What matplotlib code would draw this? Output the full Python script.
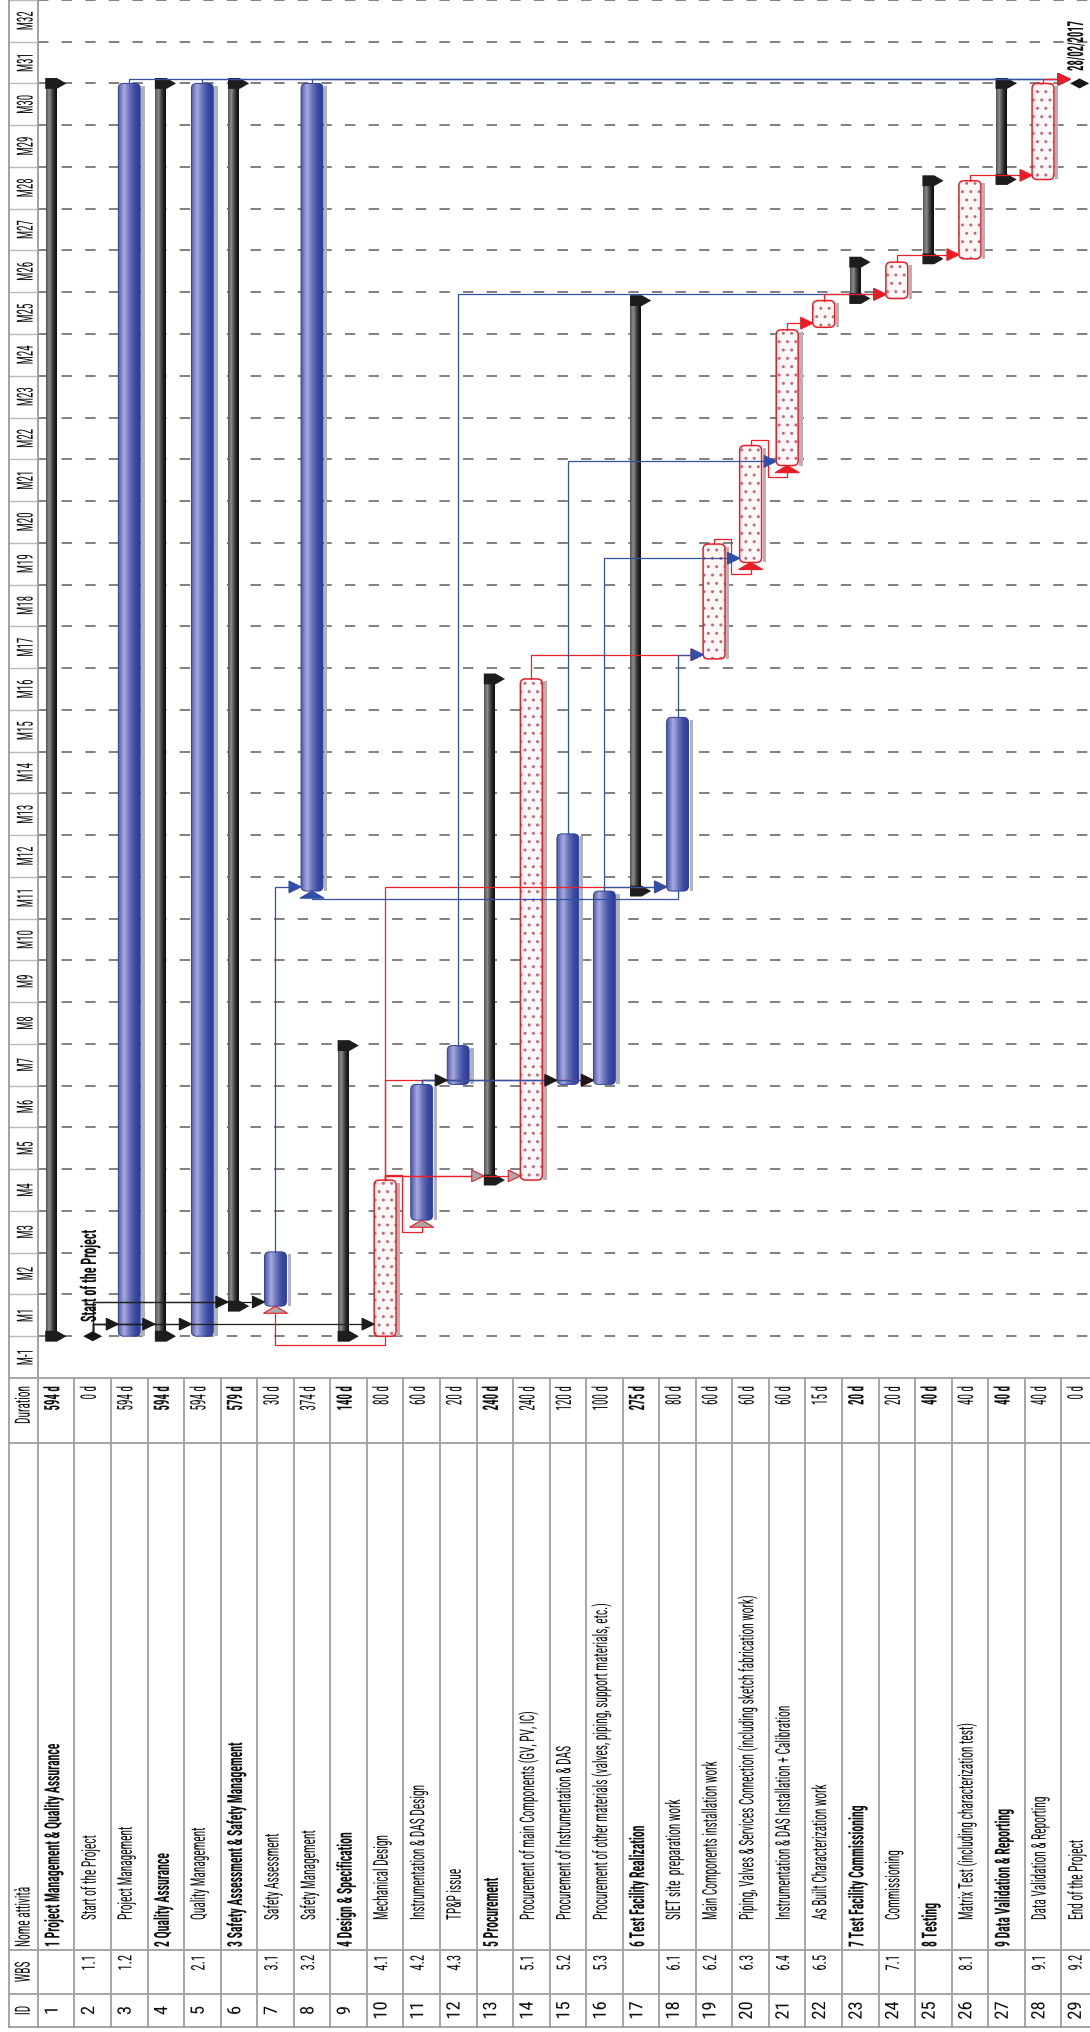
import numpy as np
import matplotlib
matplotlib.use("Agg")
import matplotlib.pyplot as plt
from matplotlib import font_manager as fm
from matplotlib.patches import FancyBboxPatch, Rectangle, Polygon
from matplotlib.colors import LinearSegmentedColormap
from matplotlib.patheffects import AbstractPathEffect
from matplotlib.transforms import Affine2D

# ---------------------------------------------------------------- data
task_ids = list(range(1, 30))
wbs_codes = ["", "1.1", "1.2", "", "2.1", "", "3.1", "3.2", "", "4.1", "4.2", "4.3", "",
             "5.1", "5.2", "5.3", "", "6.1", "6.2", "6.3", "6.4", "6.5", "", "7.1", "",
             "8.1", "", "9.1", "9.2"]
task_names = [
    "1 Project Management & Quality Assurance",
    "Start of the Project",
    "Project Management",
    "2 Quality Assurance",
    "Quality Management",
    "3 Safety Assessment & Safety Management",
    "Safety Assessment",
    "Safety Management",
    "4 Design & Specification",
    "Mechanical Design",
    "Instrumentation & DAS Design",
    "TP&P issue",
    "5 Procurement",
    "Procurement of main Components (GV, PV, IC)",
    "Procurement of Instrumentation & DAS",
    "Procurement of other materials (valves, piping, support materials, etc.)",
    "6 Test Facility Realization",
    "SIET site  preparation work",
    "Main Components installation work",
    "Piping, Valves & Services Connection (including sketch fabrication work)",
    "Instrumentation & DAS Installation + Calibration",
    "As Built Characterization work",
    "7 Test Facility Commissioning",
    "Commissioning",
    "8 Testing",
    "Matrix Test (including characterization test)",
    "9 Data Validation & Reporting",
    "Data Validation & Reporting",
    "End of the Project",
]
durations = ["594 d", "0 d", "594 d", "594 d", "594 d", "579 d", "30 d", "374 d", "140 d",
             "80 d", "60 d", "20 d", "240 d", "240 d", "120 d", "100 d", "275 d", "80 d",
             "60 d", "60 d", "60 d", "15 d", "20 d", "20 d", "40 d", "40 d", "40 d",
             "40 d", "0 d"]
task_types = ["summary", "milestone", "task", "summary", "task", "summary", "task", "task",
              "summary", "critical", "task", "task", "summary", "critical", "task", "task",
              "summary", "task", "critical", "critical", "critical", "critical", "summary",
              "critical", "summary", "critical", "summary", "critical", "milestone"]
# start / finish in months counted from the beginning of column "M-1"
start_month = [1.00, 1.00, 1.00, 1.00, 1.00, 1.72, 1.72, 11.66, 1.00, 1.00, 3.78, 7.03,
               4.74, 4.74, 7.03, 7.03, 11.66, 11.66, 17.22, 19.53, 21.85, 25.16, 25.85,
               25.85, 26.80, 26.80, 28.70, 28.70, 31.00]
finish_month = [31.00, 1.00, 31.00, 31.00, 31.00, 31.00, 3.02, 31.00, 7.96, 4.74, 7.03,
                7.96, 16.74, 16.74, 13.03, 11.66, 25.80, 15.82, 19.97, 22.33, 25.10, 25.80,
                26.72, 26.72, 28.67, 28.67, 31.00, 31.00, 31.00]
month_labels = ["M-1", "M1", "M2", "M3", "M4", "M5", "M6", "M7", "M8", "M9", "M10", "M11",
                "M12", "M13", "M14", "M15", "M16", "M17", "M18", "M19", "M20", "M21", "M22",
                "M23", "M24", "M25", "M26", "M27", "M28", "M29", "M30", "M31", "M32"]
# (predecessor, successor, link type, line colour, arrow colour)
dependencies = [
    (2, 3, "FS", "black", "black"), (2, 4, "FS", "black", "black"),
    (2, 5, "FS", "black", "black"), (2, 6, "FS", "black", "black"),
    (2, 7, "FS", "black", "black"), (2, 10, "FS", "black", "black"),
    (10, 7, "SS", "red", "redgray"), (10, 11, "FS", "red", "redgray"),
    (10, 13, "FS", "red", "redgray"), (10, 14, "FS", "red", "redgray"),
    (10, 16, "FS", "red", "redgray"), (10, 18, "FS", "red", "redgray"),
    (14, 19, "FS", "red", "red"),
    (7, 8, "FS", "blue", "blue"), (11, 12, "FS", "blue", "black"),
    (11, 15, "FS", "blue", "black"), (11, 16, "FS", "blue", "black"),
    (16, 18, "FS", "blue", "blue"), (18, 8, "SS", "blue", "blue"),
    (18, 19, "FS", "blue", "blue"), (16, 20, "FS", "blue", "blue"),
    (15, 21, "FS", "blue", "blue"), (12, 24, "FS", "blue", "blue"),
    (3, 29, "FS", "blue", "blue"), (5, 29, "FS", "blue", "blue"),
    (8, 29, "FS", "blue", "blue"),
    (19, 20, "FS", "red", "red"), (20, 21, "FS", "red", "red"),
    (21, 22, "FS", "red", "red"), (22, 24, "FS", "red", "red"),
    (24, 26, "FS", "red", "red"), (26, 28, "FS", "red", "red"),
    (28, 29, "FS", "red", "red"),
]
start_label = "Start of the Project"
end_label = "28/02/2017"
header_labels = ["Duration", "Nome attività", "WBS", "ID"]

# ---------------------------------------------------------------- layout
W, H = 1090, 2033
X_BORDER, X_ROWS, ROW_W = 8.5, 37.9, 36.55
Y_TABLE, MONTH_H = 1379.0, 41.76
TABLE_LINES = [1379, 1444, 1951, 1995, 2028]

avail = {f.name for f in fm.fontManager.ttflist}
FONT = next((n for n in ["Liberation Sans Narrow", "Arial Narrow", "Roboto Condensed",
                         "Liberation Sans", "Arial"] if n in avail), "DejaVu Sans")
plt.rcParams["font.family"] = [FONT, "DejaVu Sans"]
plt.rcParams["lines.scale_dashes"] = False
plt.rcParams["hatch.linewidth"] = 1.0

fig = plt.figure(figsize=(W / 100, H / 100), dpi=100)
fig.patch.set_facecolor("white")
renderer = fig.canvas.get_renderer()


class Stretch(AbstractPathEffect):
    """Stretch glyphs across the writing direction (condensed look)."""

    def __init__(self, k, centre=36.0):
        super().__init__()
        self._k = k
        self._c = centre

    def draw_path(self, renderer, gc, tpath, affine, rgbFace=None):
        pre = Affine2D().translate(0, -self._c).scale(1.0, self._k).translate(0, self._c)
        renderer.draw_path(gc, tpath, pre + affine, rgbFace)


STY = {}


def style(key, sample, length_px, cap_px, weight="normal"):
    fp = fm.FontProperties(family=[FONT, "DejaVu Sans"], weight=weight, size=10)
    w, _, _ = renderer.get_text_width_height_descent(sample, fp, ismath=False)
    size = 10.0 * length_px / w
    STY[key] = dict(size=size, weight=weight, k=max(1.0, cap_px / size))


style("name", task_names[19], 323, 14.5)
style("name_bold", task_names[0], 203, 15, "bold")
style("dur", "374 d", 24.5, 15.5)
style("dur_bold", "594 d", 24.5, 15.5, "bold")
style("wbs", "4.2", 15.6, 13.5)
style("id", "10", 18, 12.5)
style("month", "M30", 19, 16)
style("header", "Duration", 38, 15)
style("ms", start_label, 92, 15.5, "bold")
style("date", end_label, 50, 16, "bold")


def put(axis, x, y, s, key, **kw):
    st = STY[key]
    t = axis.text(x, y, s, rotation=90, fontsize=st["size"], fontweight=st["weight"],
                  color="#111111", **kw)
    t.set_path_effects([Stretch(st["k"])])
    return t


# ---------------------------------------------------------------- chart axes
ax = fig.add_axes([X_ROWS / W, 1 - Y_TABLE / H, (W - X_ROWS) / W, Y_TABLE / H])
T_MAX = Y_TABLE / MONTH_H
ax.set_xlim(0.5, 0.5 + (W - X_ROWS) / ROW_W)
ax.set_ylim(0, T_MAX)
ax.set_autoscale_on(False)
ax.set_axis_off()

for m in range(1, len(month_labels) + 1):
    ax.axhline(m, color="#808080", lw=1.4, linestyle=(0, (7.5, 9.5)), zorder=1)

GRAD = np.linspace(0, 1, 128).reshape(1, -1)
BLUE_CM = LinearSegmentedColormap.from_list(
    "bl", [(0, "#4d58ab"), (0.28, "#a9abdd"), (0.5, "#6d76be"), (0.75, "#3e4da4"), (1, "#2c3c94")])
GREY_CM = LinearSegmentedColormap.from_list(
    "gr", [(0, "#505050"), (0.3, "#8e8e8e"), (0.55, "#4c4c4c"), (0.8, "#1e1e1e"), (1, "#0e0e0e")])
HW = 0.30


def rounded(x0, y0, w, h, **kw):
    return FancyBboxPatch((x0, y0), w, h, boxstyle="round,pad=0,rounding_size=0.14",
                          mutation_aspect=0.85, **kw)


for r, typ, s, f in zip(task_ids, task_types, start_month, finish_month):
    if typ == "summary":
        ax.imshow(GRAD, extent=(r - 0.29, r, s, f), cmap=GREY_CM, aspect="auto",
                  interpolation="bilinear", origin="lower", zorder=3)
        for t in (s, f):
            ax.add_patch(Polygon([(r - 0.30, t - 0.13), (r + 0.02, t - 0.13), (r + 0.28, t),
                                  (r + 0.02, t + 0.13), (r - 0.30, t + 0.13)], closed=True,
                                 facecolor="#1d1d1d", edgecolor="none", zorder=4))
    elif typ == "milestone":
        ax.add_patch(Polygon([(r - 0.26, s), (r, s + 0.12), (r + 0.26, s), (r, s - 0.12)],
                             closed=True, facecolor="#161616", edgecolor="none", zorder=6))
    else:
        ax.add_patch(Rectangle((r + HW + 0.03, s), 0.09, max(f - s - 0.06, 0.05),
                               facecolor="#b3b3b3", edgecolor="none", zorder=2))
        if typ == "task":
            outline = rounded(r - HW, s, 2 * HW, f - s, facecolor="none",
                              edgecolor="#2f3f95", lw=0.7, zorder=3.5)
            ax.add_patch(outline)
            im = ax.imshow(GRAD, extent=(r - HW, r + HW, s, f), cmap=BLUE_CM, aspect="auto",
                           interpolation="bilinear", origin="lower", zorder=3)
            im.set_clip_path(outline)
        else:
            ax.add_patch(rounded(r - HW, s, 2 * HW, f - s, facecolor="#fbf7f6",
                                 edgecolor="#c46c7a", lw=0, hatch="..", zorder=3))
            ax.add_patch(rounded(r - HW, s, 2 * HW, f - s, facecolor="none",
                                 edgecolor="#e61e28", lw=1.1, zorder=3.5))

LINE_C = {"black": "#1f1f1f", "blue": "#3352a6", "red": "#ec2027"}
ARROW_F = {"black": "#1a1a1a", "blue": "#2f4fa8", "red": "#ed1c24", "redgray": "#a9a9a9"}
ARROW_E = {"black": "#1a1a1a", "blue": "#2f4fa8", "red": "#ed1c24", "redgray": "#ed1c24"}


def tip_x(r):
    return r - (0.26 if task_types[r - 1] == "milestone" else 0.30)


for p, q, typ, lc, ac in dependencies:
    sp, fp = start_month[p - 1], finish_month[p - 1]
    sq = start_month[q - 1]
    up = True
    if typ == "SS":
        yb = min(sp, sq) - 0.2
        xs, ys = [p, p, q, q], [sp, yb, yb, sq - 0.17]
    elif sq < fp - 0.05:
        y1, y2, xr = fp + 0.12, sq - 0.28, p + 0.47
        xs, ys = [p, p, xr, xr, q, q], [fp, y1, y1, y2, y2, sq - 0.17]
    else:
        up = False
        ya = sq + 0.1
        y0 = fp
        if task_types[p - 1] == "milestone":
            ya = max(ya, fp + 0.29)
            y0 = fp + 0.12
        xt = tip_x(q)
        xs, ys = [p, p, xt - 0.33], [y0, ya, ya]
    ax.plot(xs, ys, color=LINE_C[lc], lw=0.9, solid_joinstyle="miter", zorder=5)
    if up:
        tri = [(q, sq), (q - 0.33, sq - 0.17), (q + 0.33, sq - 0.17)]
    else:
        tri = [(xt, ya), (xt - 0.33, ya + 0.14), (xt - 0.33, ya - 0.14)]
    ax.add_patch(Polygon(tri, closed=True, facecolor=ARROW_F[ac], edgecolor=ARROW_E[ac],
                         lw=0.8, zorder=6))

put(ax, 2 - 0.1, start_month[1] + 0.34, start_label, "ms", ha="center", va="bottom", zorder=7)
put(ax, 29 - 0.1, finish_month[28] + 0.3, end_label, "date", ha="center", va="bottom", zorder=7)

# ---------------------------------------------------------------- month column
axm = fig.add_axes([X_BORDER / W, 1 - Y_TABLE / H, (X_ROWS - X_BORDER) / W, Y_TABLE / H])
axm.set_xlim(0, 1)
axm.set_ylim(0, T_MAX)
axm.set_axis_off()
for m in range(1, len(month_labels) + 1):
    axm.plot([0, 1], [m, m], color="#bababa", lw=1.0)
for xb in (0, 1):
    axm.plot([xb, xb], [0, T_MAX], color="#9b9b9b", lw=1.3, clip_on=False)
for i, lab in enumerate(month_labels):
    put(axm, 0.58, i + 0.5, lab, "month", ha="center", va="center")

# ---------------------------------------------------------------- table
axt = fig.add_axes([X_BORDER / W, 0, (W - X_BORDER) / W, (H - Y_TABLE) / H])
x_left = 0.5 - (X_ROWS - X_BORDER) / ROW_W
x_right = 0.5 + (W - X_ROWS) / ROW_W
axt.set_xlim(x_left, x_right)
axt.set_ylim(H, Y_TABLE)
axt.set_axis_off()
for yl in TABLE_LINES:
    axt.plot([x_left, x_right], [yl, yl], color="#9e9e9e", lw=1.3, clip_on=False)
for xb in [x_left] + [k + 0.5 for k in range(len(task_ids) + 1)]:
    axt.plot([xb, xb], [TABLE_LINES[0], TABLE_LINES[-1]], color="#9e9e9e", lw=1.3,
             clip_on=xb > x_left)

xh = (x_left + 0.5) / 2
put(axt, xh, 1387, header_labels[0], "header", ha="center", va="top")
put(axt, xh, 1948, header_labels[1], "header", ha="center", va="bottom")
put(axt, xh, 1973, header_labels[2], "header", ha="center", va="center")
put(axt, xh, 2011.5, header_labels[3], "header", ha="center", va="center")

for r, w, nm, d, typ in zip(task_ids, wbs_codes, task_names, durations, task_types):
    bold = typ == "summary"
    xr = r - 0.1
    put(axt, xr, 2011.5, str(r), "id", ha="center", va="center")
    if w:
        put(axt, xr, 1956, w, "wbs", ha="center", va="top")
    put(axt, xr, 1948 if bold else 1921, nm, "name_bold" if bold else "name",
        ha="center", va="bottom")
    put(axt, xr, 1387, d, "dur_bold" if bold else "dur", ha="center", va="top")

fig.savefig("out.png", dpi=100)
